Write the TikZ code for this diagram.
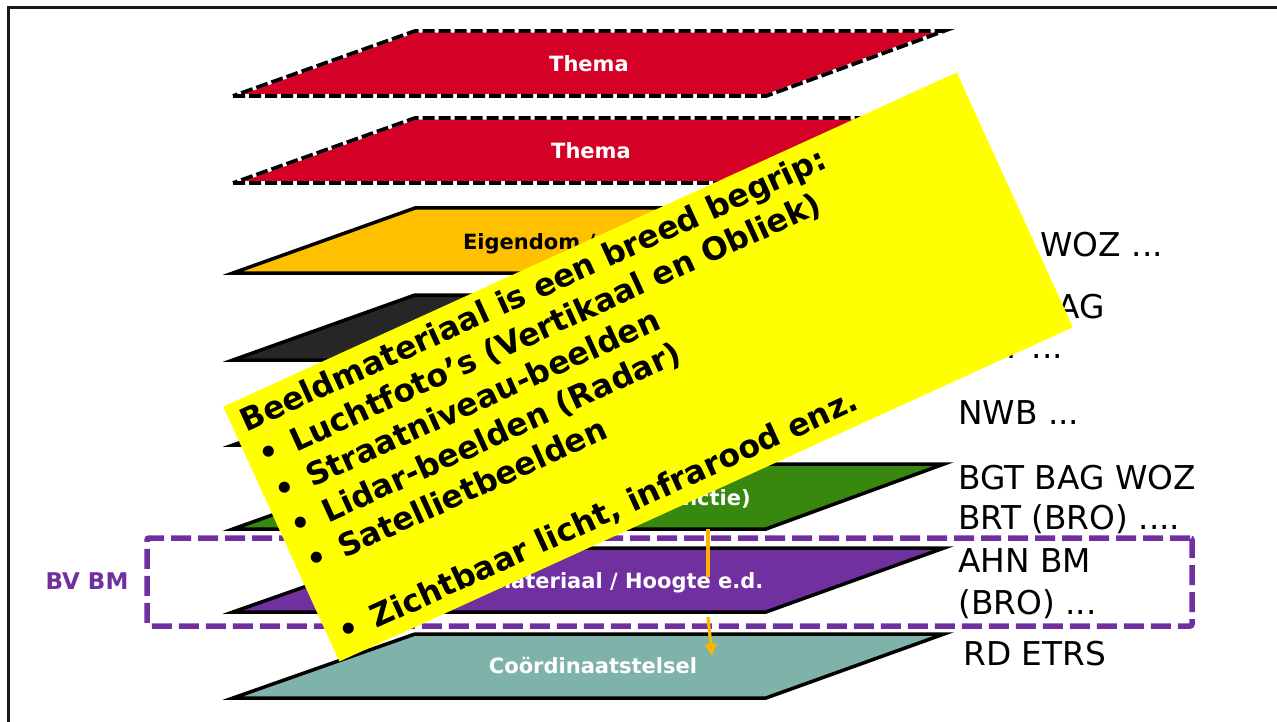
\documentclass[tikz,border=0pt]{standalone}
\usepackage{fontspec}
\setmainfont{DejaVu Sans}
\usetikzlibrary{arrows.meta}
\definecolor{lred}{RGB}{213,0,37}
\definecolor{lorange}{RGB}{255,192,0}
\definecolor{ldark}{RGB}{38,38,38}
\definecolor{lgray}{RGB}{127,127,127}
\definecolor{lgreen}{RGB}{56,135,14}
\definecolor{lpurple}{RGB}{112,48,160}
\definecolor{lteal}{RGB}{127,178,168}
\definecolor{arrorange}{RGB}{255,180,0}
\definecolor{pureyellow}{RGB}{255,255,0}
\begin{document}
\begin{tikzpicture}[x=1pt,y=-1pt,
  layerline/.style={draw=black, line width=3.5pt},
  ltext/.style={font=\fontsize{21}{25}\selectfont\bfseries, text=white, inner sep=0pt, anchor=base},
  rtext/.style={font=\fontsize{32.8}{38}\selectfont, inner sep=0pt, anchor=base west},
  ytext/.style={font=\fontsize{31.5}{38}\selectfont\bfseries, inner sep=0pt, anchor=base west, transform shape},
  arr/.style={draw=arrorange, line width=3.2pt},
  bvbox/.style={draw=lpurple, line width=5.5pt, dash pattern=on 20pt off 7pt, rounded corners=2pt, inner sep=0pt}
]
\useasboundingbox (0,0) rectangle (1277,722);
\fill[white] (0,0) rectangle (1277,722);
\draw[line width=3pt, black!90] (8,722) -- (8,8) -- (1277,8);

% dashed red theme layers
\foreach \t/\b in {31/96,118/183}{
  \fill[lred] (233,\b) -- (766,\b) -- (944,\t) -- (415,\t) -- cycle;
  \draw[white, line width=3.5pt] (233,\b) -- (766,\b) -- (944,\t) -- (415,\t) -- cycle;
  \draw[black, line width=3.8pt, dash pattern=on 12pt off 4pt] (233,\b) -- (766,\b) -- (944,\t) -- (415,\t) -- cycle;
}
% solid layers
\foreach \t/\b/\c in {208/273/lorange,295/360/ldark,380/445/lgray,464/529/lgreen,548/612/lpurple,634/698/lteal}{
  \filldraw[layerline, fill=\c] (233,\b) -- (766,\b) -- (944,\t) -- (415,\t) -- cycle;
}

\node[ltext] (thema1) at (589,72) {Thema};
\node[ltext] (thema2) at (591,159) {Thema};
\node[ltext, text=black] (eigendom) at (578,249) {Eigendom / Waarde};
\node[ltext] (topo) at (582,505) {Topografie (Object / Functie)};
\node[ltext] (beeld) at (593,588) {Beeldmateriaal / Hoogte e.d.};
\node[ltext] (coord) at (593,673) {Coördinaatstelsel};

% right column texts
\node[rtext] (r3) at (963,256) {BRK WOZ ...};
\node[rtext] (r4a) at (958,318) {BGT BAG};
\node[rtext] (r4b) at (958,358) {BRT ...};
\node[rtext] (r5) at (958,424) {NWB ...};
\node[rtext] (r6a) at (958,489) {BGT BAG WOZ};
\node[rtext] (r6b) at (958,529) {BRT (BRO) ....};
\node[rtext] (r7a) at (958,572) {AHN BM};
\node[rtext] (r7b) at (958,614) {(BRO) ...};
\node[rtext] (r8) at (963,665) {RD ETRS};

% BV BM box
\node[bvbox, minimum width=1045pt, minimum height=88pt] (bv) at (669.5,582) {};
\node[font=\fontsize{23}{27}\selectfont\bfseries, text=lpurple, inner sep=0pt, anchor=base] (bvlabel) at (87,589.5) {BV BM};

% orange arrows
\coordinate (a1s) at (708,529);
\coordinate (a1e) at (708,577);
\coordinate (a2s) at (708,617);
\coordinate (a2e) at (712,656);
\draw[arr] (a1s) -- (a1e);
\draw[arr, -{Triangle[length=12pt,width=11pt]}] (a2s) -- (a2e);

% yellow callout
\begin{scope}[shift={(223.3,406.7)}, rotate=24.5]
  \fill[pureyellow] (0,0) rectangle (806,280);
  \node[ytext] (y1) at (10,33) {Beeldmateriaal is een breed begrip:};
  \node[ytext] (b2) at (12,71.8) {•};
  \node[ytext] (y2) at (47,71.8) {Luchtfoto’s (Vertikaal en Obliek)};
  \node[ytext] (b3) at (12,110.6) {•};
  \node[ytext] (y3) at (47,110.6) {Straatniveau-beelden};
  \node[ytext] (b4) at (12,149.4) {•};
  \node[ytext] (y4) at (47,149.4) {Lidar-beelden (Radar)};
  \node[ytext] (b5) at (12,188.2) {•};
  \node[ytext] (y5) at (47,188.2) {Satellietbeelden};
  \node[ytext] (b7) at (12,265.8) {•};
  \node[ytext] (y7) at (47,265.8) {Zichtbaar licht, infrarood enz.};
\end{scope}
\end{tikzpicture}
\end{document}
